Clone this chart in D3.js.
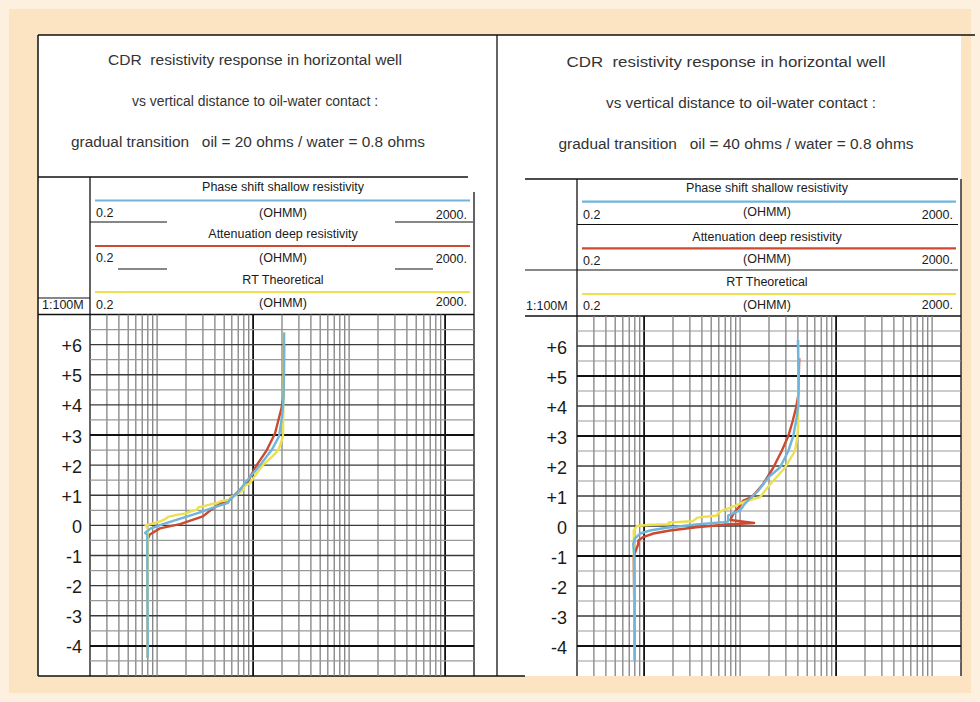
<!DOCTYPE html>
<html><head><meta charset="utf-8">
<script src="https://cdn.jsdelivr.net/npm/d3@7"></script>
<style>
html,body{margin:0;padding:0;background:#fdf0de;}
svg{display:block;font-family:"Liberation Sans",Arial,Helvetica,sans-serif;}
text{white-space:pre;}
</style></head><body>
<svg id="c" width="980" height="702"></svg>
<script>
// ---------------- DATA ----------------
const resDomain = [0.2, 2000];
const depthDomain = [-5, 7];
const depthTicks = [6, 5, 4, 3, 2, 1, 0, -1, -2, -3, -4];
const depthLabels = ["+6", "+5", "+4", "+3", "+2", "+1", "0", "-1", "-2", "-3", "-4"];
const scaleLabel = "1:100M";
const unitLabel = "(OHMM)";
const minLabel = "0.2";
const maxLabel = "2000.";
const curveNames = ["Phase shift shallow resistivity", "Attenuation deep resistivity", "RT Theoretical"];
const leftTitles = ["CDR  resistivity response in horizontal well",
                    "vs vertical distance to oil-water contact :",
                    "gradual transition   oil = 20 ohms / water = 0.8 ohms"];
const rightTitles = ["CDR  resistivity response in horizontal well",
                     "vs vertical distance to oil-water contact :",
                     "gradual transition   oil = 40 ohms / water = 0.8 ohms"];
const leftBoldRes = [10, 1000];
const rightBoldRes = [1, 100];
const leftBoldDepth = [3, -4];
const rightBoldDepth = [5, 3, -1, -4];

// [depth, resistivity]
const leftShallow = [[-4.4,0.8],[-0.3,0.79],[-0.25,0.75],[-0.12,0.84],[0.04,1.15],[0.2,1.65],[0.4,2.6],[0.63,4.2],[0.75,5.5],[0.85,5.7],[0.96,6.2],[1.05,6.8],[1.4,8.2],[2.0,11.8],[2.5,15.6],[2.95,18.6],[3.5,19.8],[4.0,20.6],[5.0,21],[6.4,21]];
const leftDeep = [[-4.4,0.8],[-0.45,0.8],[-0.3,0.84],[-0.1,1.07],[0.04,1.73],[0.3,3.0],[0.5,3.6],[0.7,4.4],[0.85,5.7],[1.4,8.6],[2.0,10.9],[2.5,13.9],[3.05,16.9],[3.6,18.7],[3.9,19.8],[4.3,20.8],[6.0,21]];
const leftTheory = [[-4.4,0.8],[-0.1,0.8],[0,0.76],[0.08,0.95],[0.13,1.07],[0.2,1.2],[0.28,1.3],[0.35,1.6],[0.4,2.0],[0.46,2.2],[0.52,2.6],[0.6,2.7],[0.63,3.0],[0.7,3.6],[0.74,4.2],[0.8,4.6],[0.85,5.7],[0.95,5.9],[1.0,6.6],[1.17,7.9],[1.3,8.0],[1.4,9.3],[1.6,10.2],[2.0,12.6],[2.3,16],[2.5,18.3],[2.8,19.8],[3.0,20.5],[6.4,21]];

const rightShallow = [[-4.5,0.8],[-1.0,0.79],[-0.6,0.77],[-0.42,0.8],[-0.25,0.91],[-0.15,1.15],[-0.06,1.72],[0.05,3.5],[0.13,6.7],[0.15,7.5],[0.35,7.5],[0.52,10],[0.74,11.2],[0.85,12.1],[1.18,15.5],[1.62,19.7],[1.95,26],[2.5,31.8],[3.0,35.8],[3.6,38.8],[4.05,40.4],[4.95,40.6],[6.2,40]];
const rightDeep = [[-4.5,0.8],[-1.0,0.78],[-0.6,0.87],[-0.48,0.87],[-0.37,0.98],[-0.25,1.25],[-0.15,1.86],[-0.04,3.5],[0.05,7.2],[0.1,14.0],[0.2,7.9],[0.4,8.5],[0.68,10],[0.85,10.8],[0.96,13.2],[1.4,17.4],[1.95,22.2],[2.5,27.1],[3.0,31.8],[3.5,35.3],[3.93,38.2],[4.37,40.4],[5.6,41.3]];
const rightTheory = [[-4.5,0.8],[-0.15,0.78],[0,0.84],[0.04,1.15],[0.06,1.86],[0.12,1.8],[0.16,3.2],[0.28,3.6],[0.35,5.7],[0.45,6.0],[0.52,6.6],[0.63,8.2],[0.75,10],[0.85,12.2],[0.96,16.1],[1.3,19.5],[1.95,29.4],[2.5,37.3],[2.95,39.4],[3.3,40.2],[6.2,40.4]];

const colors = {shallow: "#6fb5dc", deep: "#cc4a30", theory: "#ece04e", ink: "#111"};

// ---------------- DRAW ----------------
const svg = d3.select("#c");
svg.append("rect").attr("width", 980).attr("height", 702).attr("fill", "#fdf0de");
svg.append("rect").attr("x", 9).attr("y", 9).attr("width", 962).attr("height", 684).attr("fill", "#fce3c1");
svg.append("rect").attr("x", 38).attr("y", 35).attr("width", 459).attr("height", 641).attr("fill", "#fff");
svg.append("rect").attr("x", 497).attr("y", 35).attr("width", 464).attr("height", 641).attr("fill", "#fff");

function line(x1, y1, x2, y2, w, c) {
  svg.append("line").attr("x1", x1).attr("y1", y1).attr("x2", x2).attr("y2", y2)
    .attr("stroke", c || colors.ink).attr("stroke-width", w || 1.3);
}
function text(t, x, y, size, anchor, fill, len) {
  const el = svg.append("text").attr("x", x).attr("y", y).attr("font-size", size)
    .attr("text-anchor", anchor || "middle").attr("dominant-baseline", "central")
    .attr("fill", fill || "#1a1a1a").text(t);
  if (len) el.attr("textLength", len).attr("lengthAdjust", "spacingAndGlyphs");
  return el;
}

// outer frame
line(38, 35, 975, 35, 1.5);
line(38, 35, 38, 676, 1.5);
line(38, 676, 525, 676, 1.5);
line(497, 35, 497, 676, 1.3);

const panels = [
  {titles: leftTitles, titleX: [255, 255, 248], titleY: [60, 101, 142], titleLen: [294, 246, 354], titleSize: 14,
   x0: 90, x1: 474, yTop: 314.5, labelX: 82, bold: leftBoldRes, boldDepth: leftBoldDepth,
   series: [leftShallow, leftDeep, leftTheory],
   hdr: {lineY: 177, lineX: [38, 468], rightTop: 192, nameX: 283, nameY: [187, 234, 280],
         swY: [200.5, 246, 292], swX: [95, 470], rowY: [[213, 213, 215], [257.7, 258, 259], [305, 303, 302]],
         minX: 96, maxX: 467, segs: [[90,167,222],[395,473,222],[118,167,269],[395,433,269],[38,90,298]],
         scaleY: 305, scaleX: 42}},
  {titles: rightTitles, titleX: [726, 741, 736], titleY: [62, 103, 144], titleLen: [319, 270, 355], titleSize: 14,
   x0: 577, x1: 961, yTop: 316, labelX: 567, bold: rightBoldRes, boldDepth: rightBoldDepth,
   series: [rightShallow, rightDeep, rightTheory],
   hdr: {lineY: 179, lineX: [525, 958], rightTop: 179, nameX: 767, nameY: [188, 236.7, 281.7],
         swY: [201.7, 248.3, 294], swX: [582, 956], rowY: [[215, 212, 215], [260.7, 259, 260], [306, 305, 305]],
         minX: 583, maxX: 953, segs: [[577,958,224.5],[525,958,270]],
         scaleY: 306, scaleX: 526}}
];

panels.forEach(p => {
  const x = d3.scaleLog().domain(resDomain).range([p.x0, p.x1]);
  const y = d3.scaleLinear().domain(depthDomain).range([676, p.yTop]);
  const h = p.hdr;

  // titles
  p.titles.forEach((t, i) => text(t, p.titleX[i], p.titleY[i], p.titleSize, "middle", "#333", p.titleLen[i]));

  // header structure
  line(h.lineX[0], h.lineY, h.lineX[1], h.lineY, 1.3);
  line(p.x0, h.lineY, p.x0, 676, 1.3);
  line(p.x1, h.rightTop, p.x1, 676, 1.3);
  h.segs.forEach(s => line(s[0], s[2], s[1], s[2], 1.2));
  line(h.lineX[0], p.yTop, p.x1, p.yTop, 1.5);

  const swColors = [colors.shallow, colors.deep, colors.theory];
  curveNames.forEach((n, i) => {
    text(n, h.nameX, h.nameY[i], 12.5);
    line(h.swX[0], h.swY[i], h.swX[1], h.swY[i], 2.2, swColors[i]);
    text(minLabel, h.minX, h.rowY[i][0], 12.5, "start");
    text(unitLabel, h.nameX, h.rowY[i][1], 12.5);
    text(maxLabel, h.maxX, h.rowY[i][2], 12.5, "end");
  });
  text(scaleLabel, h.scaleX, h.scaleY, 12.5, "start");

  // grid
  const g = svg.append("g");
  const vt = x.ticks().filter(v => v > resDomain[0] * 1.001 && v < resDomain[1] * 0.999);
  const isBold = d => p.bold.some(b => Math.abs(b - d) < 1e-9);
  g.selectAll("line.v").data(vt).join("line")
    .attr("x1", d => x(d)).attr("x2", d => x(d))
    .attr("y1", p.yTop).attr("y2", 676)
    .attr("stroke", d => isBold(d) ? "#111" : "#828282")
    .attr("stroke-width", d => isBold(d) ? 1.8 : 1.3);
  const ht = d3.range(-4.5, 7, 0.5);
  g.selectAll("line.h").data(ht).join("line")
    .attr("x1", p.x0).attr("x2", p.x1)
    .attr("y1", d => y(d)).attr("y2", d => y(d))
    .attr("stroke", d => p.boldDepth.includes(d) ? "#111" : (Number.isInteger(d) ? "#3a3a3a" : "#999"))
    .attr("stroke-width", d => p.boldDepth.includes(d) ? 2 : (Number.isInteger(d) ? 1.4 : 1.2));

  // depth labels
  depthTicks.forEach((v, i) => text(depthLabels[i], p.labelX, y(v) + 1.5, 18, "end", "#1a1a1a"));

  // curves: deep, theory, shallow on top
  const gen = d3.line().x(d => x(d[1])).y(d => y(d[0]));
  const order = [[p.series[1], colors.deep], [p.series[2], colors.theory], [p.series[0], colors.shallow]];
  order.forEach(([data, c]) => {
    svg.append("path").datum(data).attr("d", gen).attr("fill", "none")
      .attr("stroke", c).attr("stroke-width", 2.4).attr("stroke-linejoin", "round");
  });
});
</script>
</body></html>
